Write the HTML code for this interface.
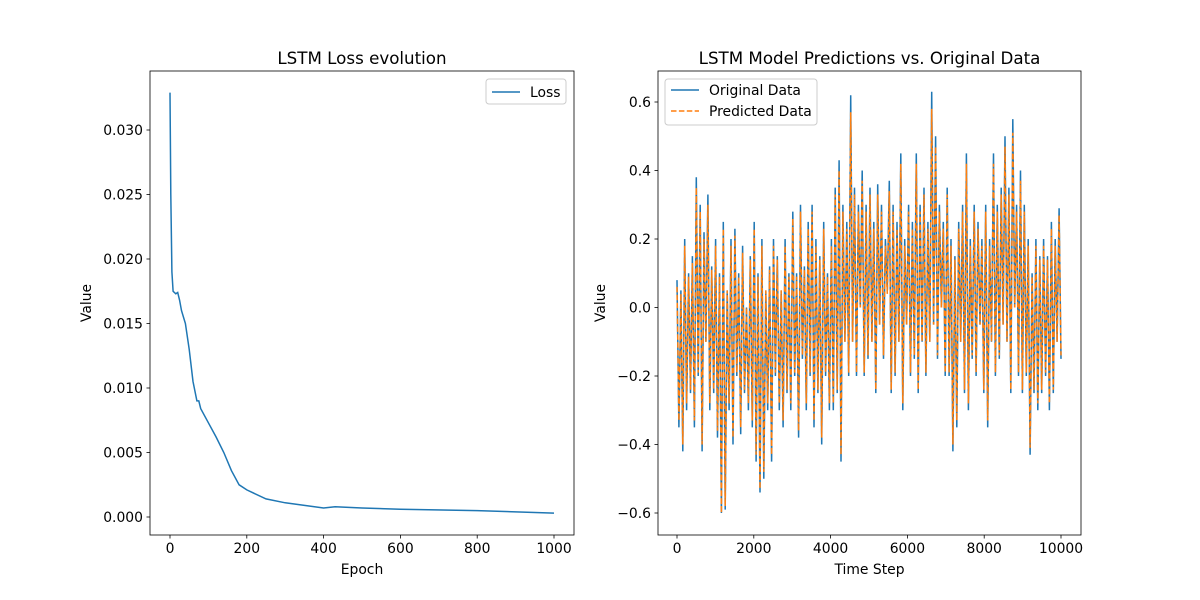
<!DOCTYPE html>
<html><head><meta charset="utf-8"><style>
body{margin:0;background:#fff;}
svg{display:block;font-family:"DejaVu Sans","Liberation Sans",sans-serif;}
</style></head><body>
<svg id="fig" width="1200" height="600" viewBox="0 0 1200 600"></svg>
<script>
const lossEpochs=[0,2,5,8,15,20,25,30,40,50,60,70,75,80,100,120,140,160,180,200,250,300,350,400,430,500,600,800,1000];
const lossValues=[0.0329,0.025,0.019,0.0175,0.0173,0.0174,0.0168,0.016,0.015,0.013,0.0105,0.009,0.009,0.0084,0.0073,0.0062,0.005,0.0036,0.0025,0.0021,0.0014,0.0011,0.0009,0.0007,0.0008,0.0007,0.0006,0.0005,0.0003];
const lossXTicks=[0,200,400,600,800,1000];
const lossYTicks=[0,0.005,0.01,0.015,0.02,0.025,0.03];
const origValues=[0.08,-0.35,0.05,-0.42,0.2,-0.3,0.1,-0.25,0.15,-0.35,
0.38,-0.2,0.3,-0.42,0.22,-0.1,0.33,-0.3,0.12,-0.25,
0.2,-0.38,0.1,-0.6,0.25,-0.59,0.05,-0.3,0.2,-0.4,
0.23,-0.2,0.1,-0.37,0.18,-0.25,0.0,-0.3,0.15,-0.35,
0.25,-0.45,0.1,-0.54,0.2,-0.5,0.05,-0.3,0.12,-0.45,
0.2,-0.2,0.15,-0.3,0.05,-0.35,0.2,-0.25,0.1,-0.3,
0.28,-0.2,0.1,-0.38,0.3,-0.15,0.12,-0.3,0.25,-0.2,
0.3,-0.35,0.2,-0.25,0.15,-0.4,0.25,-0.2,0.1,-0.3,
0.2,-0.3,0.35,-0.25,0.43,-0.45,0.3,-0.1,0.25,-0.2,
0.62,-0.1,0.35,-0.2,0.3,0.0,0.4,-0.2,0.3,-0.15,
0.35,-0.1,0.25,-0.25,0.36,-0.05,0.3,-0.15,0.2,0.05,
0.37,-0.25,0.3,-0.2,0.25,-0.1,0.45,-0.3,0.2,-0.05,
0.3,-0.2,0.25,-0.15,0.45,-0.25,0.3,-0.1,0.35,-0.2,
0.25,-0.1,0.63,-0.05,0.5,-0.15,0.3,0.0,0.25,-0.2,
0.35,-0.2,0.2,-0.42,0.15,-0.35,0.25,-0.1,0.3,-0.25,
0.45,-0.3,0.2,-0.15,0.3,-0.2,0.25,-0.05,0.2,-0.25,
0.3,-0.35,0.2,-0.1,0.45,-0.2,0.3,-0.15,0.35,-0.05,
0.5,-0.1,0.35,-0.25,0.55,0.0,0.3,-0.2,0.4,-0.25,
0.3,-0.2,0.2,-0.43,0.1,-0.25,0.2,-0.3,0.15,-0.25,
0.2,-0.2,0.15,-0.3,0.25,-0.25,0.2,-0.1,0.29,-0.15];
const predValues=[0.06,-0.33,0.04,-0.4,0.18,-0.28,0.09,-0.24,0.13,-0.33,
0.35,-0.19,0.28,-0.4,0.2,-0.1,0.3,-0.28,0.11,-0.24,
0.18,-0.36,0.09,-0.6,0.23,-0.58,0.05,-0.28,0.18,-0.38,
0.21,-0.19,0.09,-0.35,0.16,-0.24,0.0,-0.28,0.14,-0.33,
0.23,-0.43,0.09,-0.53,0.18,-0.48,0.05,-0.28,0.11,-0.43,
0.18,-0.19,0.14,-0.28,0.05,-0.33,0.18,-0.24,0.09,-0.28,
0.26,-0.19,0.09,-0.36,0.28,-0.14,0.11,-0.28,0.23,-0.19,
0.28,-0.33,0.18,-0.24,0.14,-0.38,0.23,-0.19,0.09,-0.28,
0.18,-0.28,0.33,-0.24,0.4,-0.43,0.28,-0.1,0.23,-0.19,
0.57,-0.1,0.33,-0.19,0.28,0.0,0.37,-0.19,0.28,-0.14,
0.33,-0.1,0.23,-0.24,0.33,-0.05,0.28,-0.14,0.18,0.04,
0.34,-0.24,0.28,-0.19,0.23,-0.1,0.42,-0.28,0.18,-0.05,
0.28,-0.19,0.23,-0.14,0.42,-0.24,0.28,-0.1,0.33,-0.19,
0.23,-0.1,0.58,-0.05,0.47,-0.14,0.28,0.0,0.23,-0.19,
0.33,-0.19,0.18,-0.4,0.14,-0.33,0.23,-0.1,0.28,-0.24,
0.42,-0.28,0.18,-0.14,0.28,-0.19,0.23,-0.05,0.18,-0.24,
0.28,-0.33,0.18,-0.1,0.42,-0.19,0.28,-0.14,0.33,-0.05,
0.47,-0.1,0.33,-0.24,0.51,0.0,0.28,-0.19,0.37,-0.24,
0.28,-0.19,0.18,-0.41,0.09,-0.24,0.18,-0.28,0.14,-0.24,
0.18,-0.19,0.14,-0.28,0.23,-0.24,0.18,-0.1,0.27,-0.14];
const tsXTicks=[0,2000,4000,6000,8000,10000];
const tsYTicks=[-0.6,-0.4,-0.2,0,0.2,0.4,0.6];
const tsTMax=10000;

const NS="http://www.w3.org/2000/svg";
const svg=document.getElementById('fig');
function mk(tag,attrs,parent){const e=document.createElementNS(NS,tag);for(const k in attrs)e.setAttribute(k,attrs[k]);(parent||svg).appendChild(e);return e;}
function txt(s,attrs){const e=mk('text',attrs);e.textContent=s;return e;}
const fmtNeg=s=>s.replace('-','\u2212');

function axes(box,xs,ys,xt,yt,xfmt,yfmt,title,xl,yl,prefix){
  const g=mk('rect',{x:box.x0,y:box.y0,width:box.x1-box.x0,height:box.y1-box.y0,fill:'none',stroke:'#000','stroke-width':0.8});
  
  
  xt.forEach(v=>{const x=xs(v);
    mk('line',{x1:x,x2:x,y1:box.y1,y2:box.y1+3.5,stroke:'#000','stroke-width':0.8});
    const t=txt(xfmt(v),{x:x,y:box.y1+18,'text-anchor':'middle','font-size':13.9,fill:'#000'});
    
    });
  yt.forEach(v=>{const y=ys(v);
    mk('line',{x1:box.x0-3.5,x2:box.x0,y1:y,y2:y,stroke:'#000','stroke-width':0.8});
    const t=txt(yfmt(v),{x:box.x0-7,y:y+5,'text-anchor':'end','font-size':13.9,fill:'#000'});
    
    });
  const cx=(box.x0+box.x1)/2,cy=(box.y0+box.y1)/2;
  let t=txt(title,{x:cx,y:box.y0-7,'text-anchor':'middle','font-size':16.7});
  
  
  t=txt(xl,{x:cx,y:box.y1+39,'text-anchor':'middle','font-size':13.9});
  
  
  t=txt(yl,{x:0,y:0,'text-anchor':'middle','font-size':13.9,transform:`translate(${box.x0-(prefix==='loss'?59:53)},${cy}) rotate(-90)`});
  
  
}

// Left chart
const L={x0:150,x1:574,y0:71,y1:535};
const lx=v=>170+v*0.384, ly=v=>517-v*(387/0.03);
axes(L,lx,ly,lossXTicks,lossYTicks,v=>String(v),v=>v.toFixed(3),'LSTM Loss evolution','Epoch','Value','loss');
let p=mk('path',{d:lossEpochs.map((e,i)=>(i?'L':'M')+lx(e).toFixed(1)+' '+ly(lossValues[i]).toFixed(1)).join(''),fill:'none',stroke:'#1f77b4','stroke-width':1.5});


let lg=mk('rect',{x:486,y:79,width:80,height:25,rx:3,fill:'#fff',stroke:'#ccc'});


mk('line',{x1:492,x2:520,y1:92,y2:92,stroke:'#1f77b4','stroke-width':1.5});
let t=txt('Loss',{x:530,y:97,'font-size':13.9});



// Right chart
const R={x0:658,x1:1081,y0:71,y1:535};
const rx=v=>677+v*0.0384, ry=v=>307.5-v*(411/1.2);
axes(R,rx,ry,tsXTicks,tsYTicks,v=>String(v),v=>fmtNeg(v.toFixed(1)),'LSTM Model Predictions vs. Original Data','Time Step','Value','ts');
const n=origValues.length;
p=mk('path',{d:origValues.map((v,i)=>(i?'L':'M')+rx(i*tsTMax/(n-1)).toFixed(1)+' '+ry(v).toFixed(1)).join(''),fill:'none',stroke:'#1f77b4','stroke-width':1.5});


p=mk('path',{d:predValues.map((v,i)=>(i?'L':'M')+rx(i*tsTMax/(n-1)).toFixed(1)+' '+ry(v).toFixed(1)).join(''),fill:'none',stroke:'#ff7f0e','stroke-width':1.5,'stroke-dasharray':'5.5,2.4'});


lg=mk('rect',{x:665,y:79,width:152,height:46,rx:3,fill:'#fff','fill-opacity':0.8,stroke:'#ccc'});


mk('line',{x1:671,x2:699,y1:90,y2:90,stroke:'#1f77b4','stroke-width':1.5});
t=txt('Original Data',{x:709,y:95,'font-size':13.9});


mk('line',{x1:671,x2:699,y1:111,y2:111,stroke:'#ff7f0e','stroke-width':1.5,'stroke-dasharray':'5.5,2.4'});
t=txt('Predicted Data',{x:709,y:116,'font-size':13.9});


</script>
</body></html>
